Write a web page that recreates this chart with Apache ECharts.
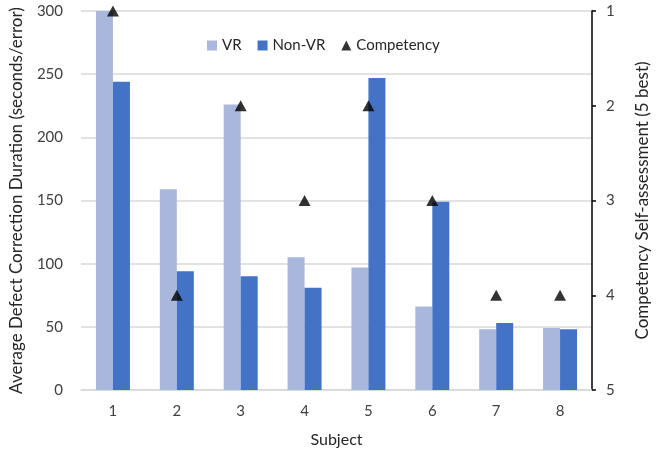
<!DOCTYPE html>
<html><head><meta charset="utf-8">
<script src="https://cdn.jsdelivr.net/npm/echarts@6/dist/echarts.min.js"></script>
<style>html,body{margin:0;padding:0;background:#fff}#c{width:659px;height:453px}</style>
</head><body><div id="c"></div>
<script>
const categories = ['1','2','3','4','5','6','7','8'];
const vr = [300, 159, 226, 105, 97, 66, 48, 49];
const nonVr = [244, 94, 90, 81, 247, 149, 53, 48];
const competency = [1, 4, 2, 3, 2, 3, 4, 4];
const leftTicks = [0, 300, 50];
const rightTicks = [1, 5, 1];

const FONT = 'Lato, "Open Sans", sans-serif';
const chart = echarts.init(document.getElementById('c'));
chart.setOption({
  animation: false,
  textStyle: {fontFamily: FONT},
  grid: {left: 79, right: 66, top: 11, bottom: 61, containLabel: false},
  legend: {
    top: 33, left: 202, itemGap: 16, itemWidth: 10, itemHeight: 10,
    textStyle: {fontFamily: FONT, fontSize: 15, color: '#262626'},
    data: [{name: 'VR', icon: 'rect'}, {name: 'Non-VR', icon: 'rect'}, {name: 'Competency', icon: 'triangle'}]
  },
  xAxis: {
    type: 'category', data: categories,
    name: 'Subject', nameLocation: 'middle', nameGap: 42,
    nameTextStyle: {fontFamily: FONT, fontSize: 16, color: '#262626'},
    axisLine: {lineStyle: {color: '#d9d9d9', width: 1.5}},
    axisTick: {show: false},
    axisLabel: {fontFamily: FONT, fontSize: 15, color: '#404040', margin: 14}
  },
  yAxis: [{
    type: 'value', min: leftTicks[0], max: leftTicks[1], interval: leftTicks[2],
    name: 'Average Defect Correction Duration (seconds/error)', nameLocation: 'middle', nameGap: 56,
    nameTextStyle: {fontFamily: FONT, fontSize: 17, color: '#262626'},
    axisLine: {show: false}, axisTick: {show: false},
    axisLabel: {fontFamily: FONT, fontSize: 15, color: '#404040', margin: 18},
    splitLine: {lineStyle: {color: '#d9d9d9', width: 1.5}}
  }, {
    type: 'value', min: rightTicks[0], max: rightTicks[1], interval: rightTicks[2], inverse: true,
    position: 'right',
    name: 'Competency Self-assessment (5 best)', nameLocation: 'middle', nameGap: 42,
    nameRotate: 90,
    nameTextStyle: {fontFamily: FONT, fontSize: 17, color: '#262626'},
    axisLine: {show: true, lineStyle: {color: '#000', width: 1.5}},
    axisTick: {show: true, inside: false, length: 4, lineStyle: {color: '#000', width: 1.5}},
    axisLabel: {fontFamily: FONT, fontSize: 15, color: '#404040', margin: 14},
    splitLine: {show: false}
  }],
  series: [{
    name: 'VR', type: 'bar', data: vr, barWidth: 17, barGap: '0%',
    itemStyle: {color: '#a9b7dc'}
  }, {
    name: 'Non-VR', type: 'bar', data: nonVr, barWidth: 17,
    itemStyle: {color: '#4472c4'}
  }, {
    name: 'Competency', type: 'scatter', yAxisIndex: 1, data: competency,
    symbol: 'triangle', symbolSize: [12, 11],
    itemStyle: {color: '#000'}, z: 5
  }]
});
</script></body></html>
